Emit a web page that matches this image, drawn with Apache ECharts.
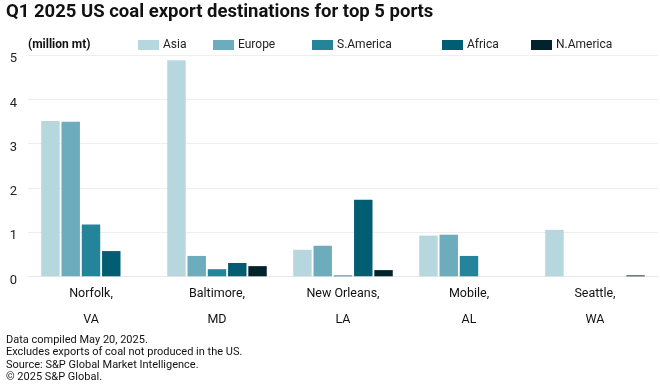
<!DOCTYPE html>
<html><head><meta charset="utf-8">
<script src="https://cdn.jsdelivr.net/npm/echarts@6/dist/echarts.min.js"></script>
<style>html,body{margin:0;padding:0;background:#fff}#c{width:660px;height:387px}</style>
</head><body><div id="c"></div>
<script>
const categories = ['Norfolk,\n\nVA', 'Baltimore,\n\nMD', 'New Orleans,\n\nLA', 'Mobile,\n\nAL', 'Seattle,\n\nWA'];
const seriesNames = ['Asia', 'Europe', 'S.America', 'Africa', 'N.America'];
const asia = [3.51, 4.88, 0.60, 0.92, 1.05];
const europe = [3.49, 0.46, 0.69, 0.94, 0];
const sAmerica = [1.17, 0.16, 0.02, 0.46, 0];
const africa = [0.57, 0.30, 1.73, 0, 0];
const nAmerica = [0, 0.23, 0.14, 0, 0.02];
const yTicks = [0, 1, 2, 3, 4, 5];
const title = 'Q1 2025 US coal export destinations for top 5 ports';
const unitLabel = '(million mt)';
const footnotes = ['Data compiled May 20, 2025.', 'Excludes exports of coal not produced in the US.', 'Source: S&P Global Market Intelligence.', '\u00a9 2025 S&P Global.'];

const colors = ['#b7d7df', '#6dacbc', '#23849a', '#005d72', '#02232c'];
const values = [asia, europe, sAmerica, africa, nAmerica];
const legendLeft = [138, 213, 312, 442, 531];
const FONT = 'Roboto';

const chart = echarts.init(document.getElementById('c'), null, {renderer: 'canvas'});
chart.setOption({
  animation: false,
  color: colors,
  textStyle: {fontFamily: FONT},
  title: [
    {text: title, left: 6, top: 3, padding: 0, textStyle: {fontFamily: FONT, fontSize: 18.5, fontWeight: 'bold', color: '#111'}},
    {text: unitLabel, left: 28, top: 39, padding: 0, textStyle: {fontFamily: FONT, fontSize: 12, fontWeight: 'bold', color: '#111', lineHeight: 12}},
    {text: footnotes.join('\n'), left: 6, top: 334, padding: 0, textStyle: {fontFamily: FONT, fontSize: 11, fontWeight: 'normal', color: '#111', lineHeight: 12.3}}
  ],
  legend: seriesNames.map((n, i) => ({
    data: [n], left: legendLeft[i], top: 39, padding: 0, itemWidth: 21, itemHeight: 10, itemGap: 4,
    icon: 'rect', textStyle: {fontFamily: FONT, fontSize: 12, color: '#222', padding: [0, 0, 0, -1]}
  })),
  grid: {left: 28, right: 2, top: 55, bottom: 110.7, containLabel: false},
  xAxis: {
    type: 'category', data: categories,
    axisLine: {show: true, lineStyle: {color: '#e8e8e8'}}, axisTick: {show: false},
    axisLabel: {fontFamily: FONT, fontSize: 12.5, color: '#111', lineHeight: 13, margin: 11.5}
  },
  yAxis: {
    type: 'value', min: 0, max: 5, interval: 1,
    axisLine: {show: false}, axisTick: {show: false},
    splitLine: {lineStyle: {color: '#eeeeee', width: 1}},
    axisLabel: {fontFamily: FONT, fontSize: 13, color: '#222', margin: 11, verticalAlign: 'top', lineHeight: 8,
      formatter: v => yTicks.includes(v) ? String(v) : ''}
  },
  series: seriesNames.map((n, i) => ({
    name: n, type: 'bar', data: values[i], barGap: '10%', barCategoryGap: '21%',
    itemStyle: {color: colors[i]}
  }))
});
</script></body></html>
